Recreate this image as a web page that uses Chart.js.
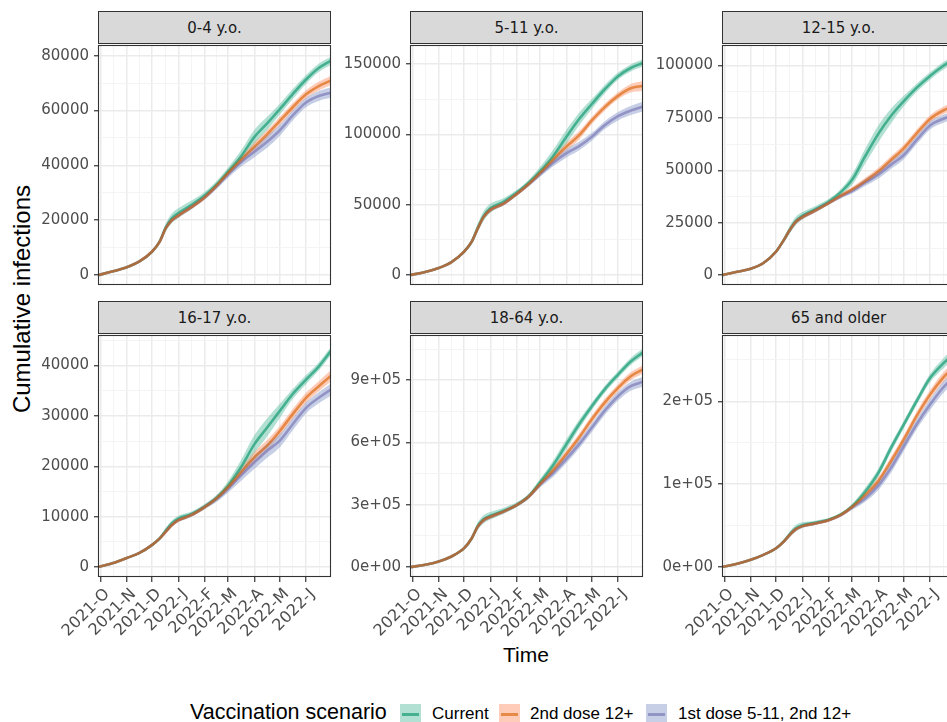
<!DOCTYPE html>
<html>
<head>
<meta charset="utf-8">
<title>Cumulative infections by age group and vaccination scenario</title>
<script src="https://cdn.jsdelivr.net/npm/chart.js@4.4.1/dist/chart.umd.min.js"></script>
<style>
  html, body { margin: 0; padding: 0; background: #ffffff; }
  body { width: 947px; height: 722px; overflow: hidden; position: relative; }
  canvas.panel { position: absolute; }
  .strip {
    position: absolute; box-sizing: border-box; background: #D9D9D9; border: 1px solid #333333;
    color: #1A1A1A; font: 15px "DejaVu Sans", sans-serif;
    display: flex; align-items: center; justify-content: center;
  }
  .ytitle {
    position: absolute; left: 22px; top: 299px; transform: translate(-50%, -50%) rotate(-90deg);
    font: 24px "Liberation Sans", Arial, sans-serif; color: #000; white-space: nowrap;
  }
  .xtitle {
    position: absolute; left: 526px; top: 655px; transform: translate(-50%, -50%);
    font: 21px "Liberation Sans", Arial, sans-serif; color: #000; white-space: nowrap;
  }
  .lg { position: absolute; font-family: "Liberation Sans", Arial, sans-serif; color: #000; white-space: nowrap; line-height: 1; }
  .lg.ttl { font-size: 21.5px; top: 702px; }
  .lg.lab { font-size: 17px; top: 705px; }
  .lg.key { width: 21px; height: 21px; top: 704px; }
  .lg.key i { position: absolute; left: 2px; right: 2px; top: 9px; height: 3px; }
</style>
</head>
<body>
<div class="ytitle">Cumulative infections</div>
<div class="xtitle">Time</div>
<div class="lg ttl" style="left:190px">Vaccination scenario</div>

<script>
// ---- time axis (days counted from 1 Oct 2021) ----
const DAYS = [-3, 15, 31, 46, 61, 70, 77, 84, 92, 107, 123, 137, 151, 166, 182, 197, 212, 227, 243, 258, 272];
const MONTH_DAYS = [0, 31, 61, 92, 123, 151, 182, 212, 243];
const MONTH_LABELS = ['2021-O', '2021-N', '2021-D', '2022-J', '2022-F', '2022-M', '2022-A', '2022-M', '2022-J'];

const SCENARIOS = ['Current', '2nd dose 12+', '1st dose 5-11, 2nd 12+'];
const AGE_GROUPS = ['0-4 y.o.', '5-11 y.o.', '12-15 y.o.', '16-17 y.o.', '18-64 y.o.', '65 and older'];

// ---- 0-4 y.o. ----
const age04Current = [0, 1400, 2900, 5000, 8600, 12300, 17300, 20600, 22600, 25500, 29000, 33000, 37800, 43200, 50400, 55300, 60500, 65900, 71300, 75500, 78100];
const age04Dose2   = [0, 1400, 2900, 5000, 8600, 12200, 17000, 19900, 21700, 24700, 28300, 32500, 37300, 42000, 46800, 51300, 56200, 61100, 65900, 68900, 70900];
const age04Dose1   = [0, 1400, 2900, 5000, 8600, 12200, 17000, 19900, 21700, 24700, 28300, 32300, 36800, 41100, 45000, 48600, 52800, 58100, 62900, 65300, 66500];
const age04CurrentBand = [0, 200, 300, 400, 600, 900, 1400, 1800, 1800, 1600, 1300, 1200, 1500, 2200, 2600, 2400, 2000, 1800, 1600, 1500, 1500];
const age04Dose2Band   = [0, 200, 200, 300, 400, 500, 600, 700, 700, 700, 700, 800, 1000, 1300, 1600, 1600, 1500, 1500, 1500, 1600, 1700];
const age04Dose1Band   = [0, 200, 200, 300, 400, 500, 600, 700, 700, 700, 800, 1000, 1300, 1600, 2000, 2200, 2000, 1800, 1700, 1800, 1900];
const age04Ticks = [0, 20000, 40000, 60000, 80000];
const age04TickLabels = ['0', '20000', '40000', '60000', '80000'];

// ---- 5-11 y.o. ----
const age511Current = [0, 2300, 5100, 9300, 16800, 23800, 33500, 42000, 47500, 52000, 58500, 65500, 74000, 84400, 98400, 111000, 121700, 132000, 141500, 147300, 150800];
const age511Dose2   = [0, 2300, 5100, 9300, 16800, 23800, 33000, 41300, 46400, 50600, 57600, 64600, 72700, 82000, 91400, 99500, 110000, 119300, 127500, 132900, 134500];
const age511Dose1   = [0, 2300, 5100, 9300, 16800, 23800, 33000, 41300, 46400, 50600, 57600, 64400, 72000, 79700, 86700, 91800, 98400, 106500, 113000, 117000, 119800];
const age511CurrentBand = [0, 300, 500, 800, 1200, 2000, 3000, 3500, 3200, 2500, 2000, 2000, 3000, 4500, 5000, 4500, 3500, 3000, 2500, 2500, 2500];
const age511Dose2Band   = [0, 300, 400, 600, 900, 1200, 1500, 1500, 1500, 1300, 1300, 1500, 2000, 2500, 3000, 3000, 2500, 2500, 2500, 3000, 3500];
const age511Dose1Band   = [0, 300, 400, 600, 900, 1200, 1500, 1500, 1500, 1300, 1300, 1500, 2000, 2500, 3000, 3000, 2800, 2800, 3000, 3200, 3500];
const age511Ticks = [0, 50000, 100000, 150000];
const age511TickLabels = ['0', '50000', '100000', '150000'];

// ---- 12-15 y.o. ----
const age1215Current = [0, 1600, 3100, 5800, 11300, 16700, 21600, 25700, 28300, 31400, 35000, 39400, 45600, 56500, 67500, 76000, 83000, 89300, 95000, 99600, 103200];
const age1215Dose2   = [0, 1600, 3100, 5800, 11300, 16700, 21400, 25300, 27700, 30800, 34400, 37800, 40900, 44800, 49500, 55000, 60500, 67500, 74500, 78400, 80800];
const age1215Dose1   = [0, 1600, 3100, 5800, 11300, 16700, 21400, 25300, 27700, 30800, 34400, 37500, 40200, 44100, 48000, 52700, 57300, 64400, 71400, 74500, 76100];
const age1215CurrentBand = [0, 200, 400, 600, 900, 1300, 1800, 2000, 1800, 1500, 1300, 1500, 2500, 3500, 4000, 3500, 2500, 2000, 1800, 1800, 1800];
const age1215Dose2Band   = [0, 200, 300, 500, 700, 900, 1000, 1000, 1000, 900, 900, 1000, 1200, 1500, 1700, 1800, 1800, 1800, 1800, 1800, 1800];
const age1215Dose1Band   = [0, 200, 300, 500, 700, 900, 1000, 1000, 1000, 900, 900, 1000, 1300, 1600, 1900, 2000, 2000, 2000, 1900, 1900, 1900];
const age1215Ticks = [0, 25000, 50000, 75000, 100000];
const age1215TickLabels = ['0', '25000', '50000', '75000', '100000'];

// ---- 16-17 y.o. ----
const age1617Current = [0, 800, 1800, 2800, 4400, 5700, 7200, 8600, 9600, 10500, 12000, 13700, 16200, 19800, 24400, 27700, 31000, 34300, 37200, 39800, 42800];
const age1617Dose2   = [0, 800, 1800, 2800, 4400, 5700, 7000, 8300, 9300, 10300, 11900, 13600, 15900, 18800, 21800, 24100, 27000, 30300, 33600, 35900, 37900];
const age1617Dose1   = [0, 800, 1800, 2800, 4400, 5700, 7000, 8300, 9300, 10300, 11900, 13500, 15600, 18200, 20800, 23100, 25100, 28300, 31600, 33600, 35200];
const age1617CurrentBand = [0, 100, 150, 200, 300, 400, 550, 600, 600, 500, 500, 600, 900, 1400, 1800, 1800, 1400, 1000, 900, 800, 800];
const age1617Dose2Band   = [0, 100, 150, 200, 250, 300, 350, 350, 350, 350, 400, 500, 700, 900, 1100, 1100, 1000, 1000, 1000, 1000, 1100];
const age1617Dose1Band   = [0, 100, 150, 200, 250, 300, 350, 350, 350, 350, 400, 600, 800, 1100, 1300, 1400, 1300, 1200, 1100, 1100, 1200];
const age1617Ticks = [0, 10000, 20000, 30000, 40000];
const age1617TickLabels = ['0', '10000', '20000', '30000', '40000'];

// ---- 18-64 y.o. ----
const age1864Current = [0, 11000, 27000, 51000, 91000, 139000, 197000, 230000, 247000, 270000, 300000, 340000, 409000, 489000, 592000, 688000, 775000, 855000, 927000, 990000, 1033000];
const age1864Dose2   = [0, 11000, 27000, 51000, 91000, 139000, 194000, 226000, 242000, 266000, 298000, 338000, 401000, 465000, 545000, 624000, 712000, 791000, 863000, 919000, 951000];
const age1864Dose1   = [0, 11000, 27000, 51000, 91000, 139000, 194000, 226000, 242000, 266000, 298000, 338000, 398000, 452000, 521000, 592000, 672000, 752000, 823000, 871000, 892000];
const age1864CurrentBand = [0, 2000, 3000, 5000, 8000, 12000, 18000, 20000, 18000, 15000, 12000, 12000, 16000, 22000, 25000, 22000, 18000, 16000, 16000, 17000, 18000];
const age1864Dose2Band   = [0, 2000, 3000, 4000, 6000, 8000, 10000, 10000, 9000, 8000, 8000, 10000, 13000, 16000, 18000, 18000, 18000, 18000, 18000, 19000, 20000];
const age1864Dose1Band   = [0, 2000, 3000, 4000, 6000, 8000, 10000, 10000, 9000, 8000, 8000, 10000, 14000, 18000, 20000, 21000, 21000, 21000, 21000, 22000, 23000];
const age1864Ticks = [0, 300000, 600000, 900000];
const age1864TickLabels = ['0e+00', '3e+05', '6e+05', '9e+05'];

// ---- 65 and older ----
const age65Current = [0, 4000, 8800, 14800, 22700, 30900, 39500, 46500, 50500, 53500, 57200, 63200, 73500, 90500, 114000, 144000, 172000, 200000, 228000, 245000, 258000];
const age65Dose2   = [0, 4000, 8800, 14800, 22700, 30700, 38700, 45500, 49400, 52600, 56600, 62600, 72600, 86500, 104000, 128000, 154000, 182000, 208000, 228000, 242000];
const age65Dose1   = [0, 4000, 8800, 14800, 22700, 30700, 38700, 45500, 49400, 52600, 56600, 62400, 72000, 82500, 98500, 120000, 146000, 172000, 196000, 216000, 230000];
const age65CurrentBand = [0, 500, 800, 1200, 1800, 2500, 3500, 4000, 3500, 2500, 2000, 2000, 3000, 4500, 5000, 5000, 4500, 4500, 5000, 6000, 7000];
const age65Dose2Band   = [0, 500, 700, 1000, 1500, 2000, 2200, 2200, 2000, 1800, 1800, 2000, 2500, 3500, 4500, 5000, 5000, 5000, 5500, 6000, 6500];
const age65Dose1Band   = [0, 500, 700, 1000, 1500, 2000, 2200, 2200, 2000, 1800, 1800, 2000, 3000, 4000, 5500, 6000, 6000, 6000, 6500, 7000, 7500];
const age65Ticks = [0, 100000, 200000];
const age65TickLabels = ['0e+00', '1e+05', '2e+05'];

// ---- styling ----
const LINE_COLORS = ['rgba(27,158,119,0.72)', 'rgba(217,95,2,0.62)', 'rgba(117,112,179,0.62)'];
const FILL_COLORS = ['rgba(102,194,165,0.5)', 'rgba(252,141,98,0.45)', 'rgba(141,160,203,0.5)'];

const PANELS = [
  { title: AGE_GROUPS[0], series: [age04Current, age04Dose2, age04Dose1], bands: [age04CurrentBand, age04Dose2Band, age04Dose1Band], ticks: age04Ticks, labels: age04TickLabels, yMin: -3600, yMax: 83870 },
  { title: AGE_GROUPS[1], series: [age511Current, age511Dose2, age511Dose1], bands: [age511CurrentBand, age511Dose2Band, age511Dose1Band], ticks: age511Ticks, labels: age511TickLabels, yMin: -7000, yMax: 163640 },
  { title: AGE_GROUPS[2], series: [age1215Current, age1215Dose2, age1215Dose1], bands: [age1215CurrentBand, age1215Dose2Band, age1215Dose1Band], ticks: age1215Ticks, labels: age1215TickLabels, yMin: -4690, yMax: 109760 },
  { title: AGE_GROUPS[3], series: [age1617Current, age1617Dose2, age1617Dose1], bands: [age1617CurrentBand, age1617Dose2Band, age1617Dose1Band], ticks: age1617Ticks, labels: age1617TickLabels, yMin: -1970, yMax: 46060 },
  { title: AGE_GROUPS[4], series: [age1864Current, age1864Dose2, age1864Dose1], bands: [age1864CurrentBand, age1864Dose2Band, age1864Dose1Band], ticks: age1864Ticks, labels: age1864TickLabels, yMin: -47800, yMax: 1117800 },
  { title: AGE_GROUPS[5], series: [age65Current, age65Dose2, age65Dose1], bands: [age65CurrentBand, age65Dose2Band, age65Dose1Band], ticks: age65Ticks, labels: age65TickLabels, yMin: -11960, yMax: 279900 }
];

// ---- facet geometry ----
const COL_X = [98, 410, 722];
const ROW_Y = [43, 333];
const PLOT_W = 233, PLOT_H = 244, STRIP_H = 33;
const AXIS_W = 80, PAD_T = 12, PAD_R = 12;
const X_MIN = -3, X_MAX = 272.5;

// minor grid sits half-way between major breaks
function withMinor(majors, lo, hi) {
  const out = [];
  const step = majors.length > 1 ? majors[1] - majors[0] : 1;
  const all = [majors[0] - step].concat(majors, [majors[majors.length - 1] + step]);
  for (let i = 0; i < all.length; i++) {
    if (i > 0) out.push((all[i - 1] + all[i]) / 2);
    out.push(all[i]);
  }
  return out.filter(v => v >= lo && v <= hi);
}
const X_GRID = withMinor(MONTH_DAYS, X_MIN, X_MAX);

const panelBorder = {
  id: 'panelBorder',
  afterDraw(chart) {
    const a = chart.chartArea, c = chart.ctx;
    c.save();
    c.strokeStyle = '#333333';
    c.lineWidth = 1.1;
    c.strokeRect(Math.round(a.left) + 0.5, Math.round(a.top) + 0.5, Math.round(a.right - a.left) - 1, Math.round(a.bottom - a.top) - 1);
    c.restore();
  }
};

const TICK_FONT = { family: 'DejaVu Sans', size: 15 };
const MONTH_FONT = { family: 'DejaVu Sans', size: 16 };
const TRANSPARENT = 'rgba(0,0,0,0)';

// month labels under the bottom row: 45 degrees, right/top anchored at each tick
const monthLabels = {
  id: 'monthLabels',
  afterDraw(chart, args, opts) {
    if (!opts.show) return;
    const sx = chart.scales.x, c = chart.ctx;
    const y0 = chart.chartArea.bottom + 9;
    c.save();
    c.font = MONTH_FONT.size + 'px "' + MONTH_FONT.family + '"';
    c.fillStyle = '#4D4D4D';
    c.textAlign = 'right';
    c.textBaseline = 'top';
    MONTH_DAYS.forEach((d, k) => {
      c.save();
      c.translate(sx.getPixelForValue(d) + 1, y0);
      c.rotate(-Math.PI / 4);
      c.fillText(MONTH_LABELS[k], 0, 0);
      c.restore();
    });
    c.restore();
  }
};

PANELS.forEach((p, idx) => {
  const col = idx % 3, row = Math.floor(idx / 3);
  const bottomRow = row === 1;
  const plotL = COL_X[col], plotT = ROW_Y[row];
  const bottomH = bottomRow ? 80 : 12;
  const w = AXIS_W + PLOT_W + PAD_R, h = PAD_T + PLOT_H + bottomH;

  const canvas = document.createElement('canvas');
  canvas.className = 'panel';
  canvas.width = w; canvas.height = h;
  canvas.style.left = (plotL - AXIS_W) + 'px';
  canvas.style.top = (plotT - PAD_T) + 'px';
  canvas.style.width = w + 'px'; canvas.style.height = h + 'px';
  document.body.appendChild(canvas);

  const strip = document.createElement('div');
  strip.className = 'strip';
  strip.textContent = p.title;
  strip.style.left = plotL + 'px';
  strip.style.top = (plotT - STRIP_H + 1) + 'px';
  strip.style.width = PLOT_W + 'px';
  strip.style.height = STRIP_H + 'px';
  document.body.appendChild(strip);

  const yGrid = withMinor(p.ticks, p.yMin, p.yMax);
  const datasets = [];
  // uncertainty ribbons first (drawn underneath)
  p.series.forEach((mid, s) => {
    const band = p.bands[s];
    datasets.push({
      label: SCENARIOS[s] + ' lower',
      data: DAYS.map((d, i) => ({ x: d, y: mid[i] - band[i] })),
      borderWidth: 0, pointRadius: 0, fill: false, order: 20 - s,
      cubicInterpolationMode: 'monotone'
    });
    datasets.push({
      label: SCENARIOS[s] + ' upper',
      data: DAYS.map((d, i) => ({ x: d, y: mid[i] + band[i] })),
      borderWidth: 0, pointRadius: 0, fill: '-1', backgroundColor: FILL_COLORS[s], order: 20 - s,
      cubicInterpolationMode: 'monotone'
    });
  });
  // central trajectories; the 2nd-dose line ends on top
  const lineOrder = [3, 1, 2];
  p.series.forEach((mid, s) => {
    datasets.push({
      label: SCENARIOS[s],
      data: DAYS.map((d, i) => ({ x: d, y: mid[i] })),
      borderColor: LINE_COLORS[s], borderWidth: 2.6, pointRadius: 0, fill: false,
      order: lineOrder[s], cubicInterpolationMode: 'monotone', borderCapStyle: 'round'
    });
  });

  new Chart(canvas, {
    type: 'line',
    data: { datasets },
    plugins: [panelBorder, monthLabels],
    options: {
      responsive: false, animation: false, devicePixelRatio: 1,
      layout: { padding: { top: PAD_T, right: PAD_R, bottom: bottomRow ? 0 : 12, left: 0 } },
      plugins: {
        legend: { display: false }, tooltip: { enabled: false }, title: { display: false },
        monthLabels: { show: bottomRow }
      },
      scales: {
        x: {
          type: 'linear', min: X_MIN, max: X_MAX, bounds: 'data',
          afterBuildTicks: s => { s.ticks = X_GRID.map(v => ({ value: v })); },
          afterFit: s => { s.height = bottomRow ? 80 : 0; },
          ticks: { display: false },
          grid: {
            color: c => (c.tick && MONTH_DAYS.includes(c.tick.value)) ? '#EBEBEB' : '#F3F3F3',
            lineWidth: c => (c.tick && MONTH_DAYS.includes(c.tick.value)) ? 1.5 : 0.9,
            drawTicks: bottomRow, tickLength: 5, tickWidth: 1.2,
            tickColor: c => (c.tick && MONTH_DAYS.includes(c.tick.value)) ? '#333333' : TRANSPARENT
          },
          border: { display: false }
        },
        y: {
          type: 'linear', min: p.yMin, max: p.yMax, bounds: 'data',
          afterBuildTicks: s => { s.ticks = yGrid.map(v => ({ value: v })); },
          afterFit: s => { s.width = AXIS_W; },
          ticks: {
            autoSkip: false, padding: 5, color: '#4D4D4D', font: TICK_FONT,
            callback: v => { const k = p.ticks.indexOf(v); return k >= 0 ? p.labels[k] : ''; }
          },
          grid: {
            color: c => (c.tick && p.ticks.includes(c.tick.value)) ? '#EBEBEB' : '#F3F3F3',
            lineWidth: c => (c.tick && p.ticks.includes(c.tick.value)) ? 1.5 : 0.9,
            drawTicks: true, tickLength: 4, tickWidth: 1.2,
            tickColor: c => (c.tick && p.ticks.includes(c.tick.value)) ? '#333333' : TRANSPARENT
          },
          border: { display: false }
        }
      }
    }
  });
});

// ---- legend ----
const KEY_X = [400, 499, 646];
const LABEL_X = [432, 530, 678];
SCENARIOS.forEach((name, s) => {
  const key = document.createElement('div');
  key.className = 'lg key';
  key.style.left = KEY_X[s] + 'px';
  key.style.background = FILL_COLORS[s];
  const ln = document.createElement('i');
  ln.style.background = LINE_COLORS[s];
  key.appendChild(ln);
  const lab = document.createElement('div');
  lab.className = 'lg lab';
  lab.textContent = name;
  lab.style.left = LABEL_X[s] + 'px';
  document.body.appendChild(key);
  document.body.appendChild(lab);
});
</script>
</body>
</html>
